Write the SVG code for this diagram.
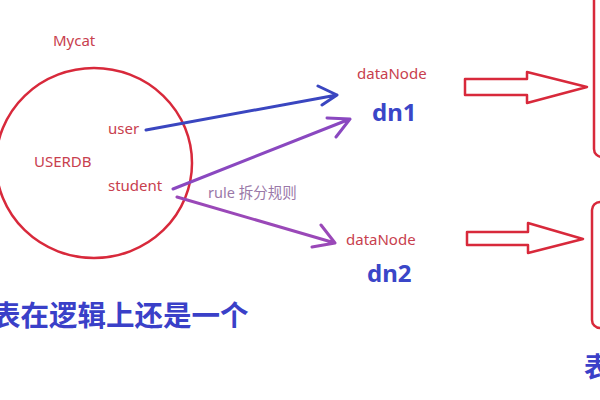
<svg xmlns="http://www.w3.org/2000/svg" width="600" height="400" viewBox="0 0 600 400">
<style>
.lbl{font-family:"Noto Sans","Liberation Sans","Noto Sans CJK SC",sans-serif;fill:#c8404e;font-size:15px}
.red{fill:none;stroke:#d8293b;stroke-width:2.5;stroke-linejoin:round}
.big{font-family:"Noto Sans CJK SC","Noto Sans",sans-serif;font-weight:bold;fill:#3a40c8}
.con{fill:none;stroke-width:3;stroke-linecap:round;stroke-linejoin:round}
.dn{font-family:"Noto Sans","Liberation Sans",sans-serif;font-weight:bold;fill:#3a46c8;font-size:24px}
</style>
<rect width="600" height="400" fill="#ffffff"/>
<g id="mycat">
<ellipse class="red" cx="94" cy="163" rx="98" ry="95"/>
<text class="lbl" x="53" y="46">Mycat</text>
<text class="lbl" x="34" y="167">USERDB</text>
<text class="lbl" x="108" y="134">user</text>
<text class="lbl" x="108" y="191">student</text>
</g>
<g id="connectors">
<path class="con" stroke="#3a46c0" d="M146 130 L337 95 M318 86 L337 95 L322 105"/>
<path class="con" stroke="#8a48c0" d="M173 189 L350 119 M327 118 L350 119 L336 137"/>
<path class="con" stroke="#9a48b8" d="M177 197 L335 243 M321 225 L335 243 L312 247"/>
<text x="208" y="198" font-size="14.5" fill="#9a78a8" font-family="Noto Sans,Noto Sans CJK SC,sans-serif">rule 拆分规则</text>
</g>
<g id="dn1">
<text class="lbl" x="357" y="79">dataNode</text>
<text class="dn" x="372" y="121">dn1</text>
</g>
<g id="dn2">
<text class="lbl" x="346" y="245">dataNode</text>
<text class="dn" x="367" y="282">dn2</text>
</g>
<g id="arrow1"><path class="red" d="M465 79 H527 V72 L587 87 L527 103 V95 H465 Z"/></g>
<g id="arrow2"><path class="red" d="M467 232 H528 V223 L583 239 L528 253 V245 H467 Z"/></g>
<g id="table1"><rect class="red" x="594" y="-20" width="40" height="177" rx="8"/></g>
<g id="table2"><rect class="red" x="592" y="202" width="40" height="126" rx="8"/></g>
<text class="big" x="-8" y="326" font-size="28.5">表在逻辑上还是一个</text>
<text class="big" x="584" y="377" font-size="27">表</text>
</svg>
